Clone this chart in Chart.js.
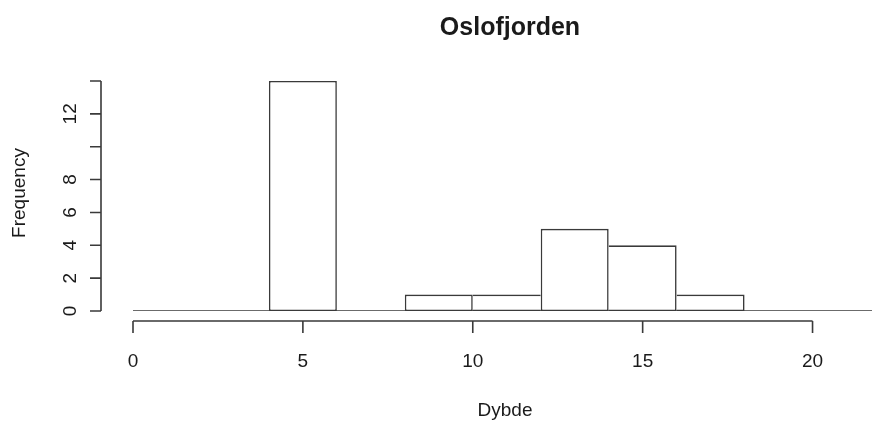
<!DOCTYPE html>
<html>
<head>
<meta charset="utf-8">
<script src="https://cdn.jsdelivr.net/npm/chart.js@4.4.1/dist/chart.umd.min.js"></script>
<style>
  html, body { margin: 0; padding: 0; background: #ffffff; }
  #wrap { width: 872px; height: 426px; }
</style>
</head>
<body>
<div id="wrap"><canvas id="c" width="872" height="426"></canvas></div>
<script>
// ---- data ----
const chartTitle = 'Oslofjorden';
const xTitle = 'Dybde';
const yTitle = 'Frequency';
const binEdges = [0, 2, 4, 6, 8, 10, 12, 14, 16, 18, 20, 22];
const counts   = [0, 0, 14, 0, 1, 1, 5, 4, 1, 0, 0];
const xTicks = [0, 5, 10, 15, 20];
const yTicks = [0, 2, 4, 6, 8, 10, 12, 14];
const yTickLabels = ['0', '2', '4', '6', '8', '', '12', ''];

// ---- build datasets from the arrays ----
const barData = counts.map((c, i) => ({ x: (binEdges[i] + binEdges[i + 1]) / 2, y: c }));
const baseData = [{ x: binEdges[0], y: 0 }, { x: binEdges[binEdges.length - 1], y: 0 }];

const LINE = '#3a3a3a';
const TEXT = '#1a1a1a';
const FONT = '"Liberation Sans", Arial, sans-serif';
const BW = 1.6;

// shared edges between neighbouring bars are drawn only once (by the taller bar)
function barBorder(ctx) {
  const i = ctx.dataIndex;
  const c = counts[i];
  const prev = i > 0 ? counts[i - 1] : 0;
  const next = i < counts.length - 1 ? counts[i + 1] : 0;
  return {
    top: BW,
    bottom: BW,
    left: (i === 0 || c > prev) ? BW : 0,
    right: (c >= next) ? BW : 0
  };
}

const rAxes = {
  id: 'rAxes',
  afterDraw(chart) {
    const { ctx } = chart;
    const xs = chart.scales.x, ys = chart.scales.y;
    ctx.save();
    ctx.strokeStyle = LINE;
    ctx.lineWidth = BW;
    ctx.fillStyle = TEXT;

    // x axis (offset below the plot, R style)
    const xAxisY = ys.getPixelForValue(0) + 10;
    ctx.beginPath();
    ctx.moveTo(xs.getPixelForValue(xTicks[0]), xAxisY);
    ctx.lineTo(xs.getPixelForValue(xTicks[xTicks.length - 1]), xAxisY);
    xTicks.forEach(v => {
      const px = xs.getPixelForValue(v);
      ctx.moveTo(px, xAxisY);
      ctx.lineTo(px, xAxisY + 12);
    });
    ctx.stroke();
    ctx.font = '19px ' + FONT;
    ctx.textAlign = 'center';
    ctx.textBaseline = 'middle';
    xTicks.forEach(v => ctx.fillText(String(v), xs.getPixelForValue(v), 362));

    // y axis
    const yAxisX = xs.getPixelForValue(0) - 32;
    ctx.beginPath();
    ctx.moveTo(yAxisX, ys.getPixelForValue(yTicks[0]));
    ctx.lineTo(yAxisX, ys.getPixelForValue(yTicks[yTicks.length - 1]));
    yTicks.forEach(v => {
      const py = ys.getPixelForValue(v);
      ctx.moveTo(yAxisX, py);
      ctx.lineTo(yAxisX - 11, py);
    });
    ctx.stroke();
    yTicks.forEach((v, i) => {
      if (!yTickLabels[i]) return;
      ctx.save();
      ctx.translate(71, ys.getPixelForValue(v));
      ctx.rotate(-Math.PI / 2);
      ctx.fillText(yTickLabels[i], 0, 0);
      ctx.restore();
    });

    // axis titles
    ctx.fillText(xTitle, 505, 411);
    ctx.save();
    ctx.translate(20, 193);
    ctx.rotate(-Math.PI / 2);
    ctx.fillText(yTitle, 0, 0);
    ctx.restore();

    // main title
    ctx.font = 'bold 25px ' + FONT;
    ctx.fillText(chartTitle, 510, 28);
    ctx.restore();
  }
};

new Chart(document.getElementById('c'), {
  type: 'bar',
  data: {
    datasets: [
      {
        type: 'bar',
        data: barData,
        backgroundColor: '#ffffff',
        borderColor: LINE,
        borderWidth: barBorder,
        borderSkipped: false,
        inflateAmount: 0,
        categoryPercentage: 1.0,
        barPercentage: 1.0,
        order: 1
      },
      {
        type: 'line',
        data: baseData,
        borderColor: LINE,
        borderWidth: BW,
        pointRadius: 0,
        fill: false,
        order: 2
      }
    ]
  },
  options: {
    responsive: false,
    animation: false,
    devicePixelRatio: 1,
    layout: { padding: { left: 133, right: 0, top: 81, bottom: 115 } },
    plugins: { legend: { display: false }, tooltip: { enabled: false }, title: { display: false } },
    scales: {
      x: {
        type: 'linear', min: 0, max: 21.75, offset: false, display: false,
        afterBuildTicks: (s) => { s.ticks = binEdges.filter(v => v <= s.max).map(v => ({ value: v })); }
      },
      y: { type: 'linear', min: 0, max: 14, display: false }
    }
  },
  plugins: [rAxes]
});
</script>
</body>
</html>
